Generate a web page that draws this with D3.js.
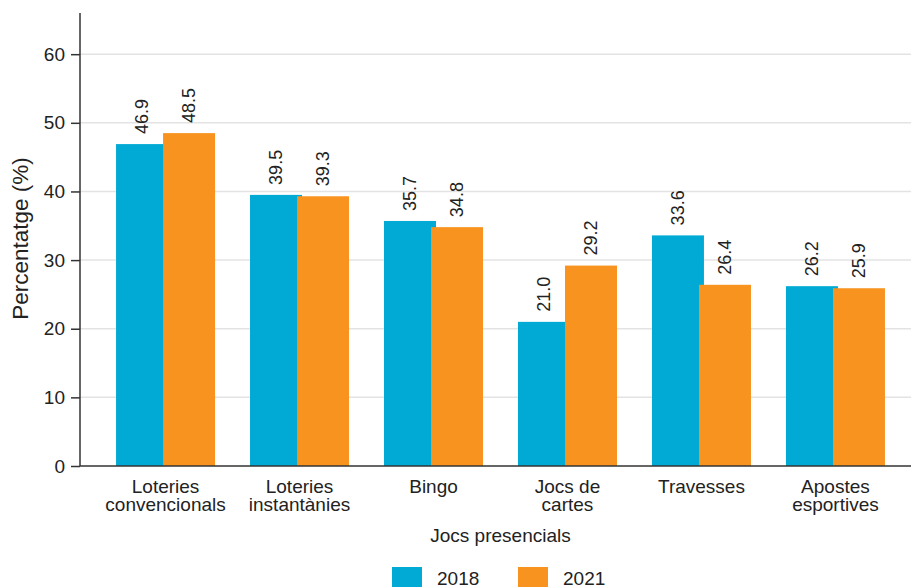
<!DOCTYPE html>
<html>
<head>
<meta charset="utf-8">
<script src="https://cdn.jsdelivr.net/npm/d3@7"></script>
<style>
  html, body { margin: 0; padding: 0; background: #fff; }
  svg { display: block; font-family: "Liberation Sans", Arial, sans-serif; }
</style>
</head>
<body>
<svg id="chart" width="911" height="587"></svg>
<script>
// Categories (two-line labels) and values per year
const categories = [
  ["Loteries", "convencionals"],
  ["Loteries", "instantànies"],
  ["Bingo"],
  ["Jocs de", "cartes"],
  ["Travesses"],
  ["Apostes", "esportives"]
];
const years = ["2018", "2021"];
const values2018 = [46.9, 39.5, 35.7, 21.0, 33.6, 26.2];
const values2021 = [48.5, 39.3, 34.8, 29.2, 26.4, 25.9];
const yTicks = [0, 10, 20, 30, 40, 50, 60];
const colors = ["#00aad4", "#f7931e"];

const svg = d3.select("#chart");
const W = 911, H = 587;
const plotLeft = 80, plotRight = 921, plotTop = 13, plotBottom = 466;
const textColor = "#222";

const keys = categories.map(c => c.join(" "));
const x0 = d3.scaleBand().domain(keys).range([plotLeft, plotRight])
  .paddingInner(0.261).paddingOuter(0.269).align(0.5);
const y = d3.scaleLinear().domain([0, 66]).range([plotBottom, plotTop]);

const bw = x0.bandwidth();
const barW = bw * 0.525;

// gridlines
svg.append("g").selectAll("line").data(yTicks.filter(t => t > 0)).join("line")
  .attr("x1", plotLeft).attr("x2", W)
  .attr("y1", d => y(d)).attr("y2", d => y(d))
  .attr("stroke", "#e3e3e3").attr("stroke-width", 1.5);

// bars
const rows = keys.map((k, i) => ({ key: k, vals: [values2018[i], values2021[i]] }));
const grp = svg.append("g").selectAll("g").data(rows).join("g")
  .attr("transform", d => `translate(${x0(d.key)},0)`);

grp.selectAll("rect").data(d => d.vals.map((v, j) => ({ v, j }))).join("rect")
  .attr("x", d => d.j * (bw - barW))
  .attr("width", barW)
  .attr("y", d => y(d.v))
  .attr("height", d => y(0) - y(d.v))
  .attr("fill", d => colors[d.j]);

// value labels, rotated
grp.selectAll("text").data(d => d.vals.map((v, j) => ({ v, j }))).join("text")
  .attr("transform", d => `translate(${d.j * (bw - barW) + barW / 2},${y(d.v) - 10}) rotate(-90)`)
  .attr("dominant-baseline", "central")
  .attr("text-anchor", "start")
  .attr("font-size", 18)
  .attr("fill", textColor)
  .text(d => d.v.toFixed(1));

// y axis
const yAxis = d3.axisLeft(y).tickValues(yTicks).tickSize(9).tickPadding(6);
const gy = svg.append("g").attr("transform", `translate(${plotLeft},0)`).call(yAxis);
gy.select(".domain").attr("d", `M0,${plotTop}V${plotBottom}`)
  .attr("stroke", "#333").attr("stroke-width", 1.5);
gy.selectAll(".tick line").attr("stroke", "#333").attr("stroke-width", 1.5);
gy.selectAll(".tick text").attr("font-size", 19).attr("fill", textColor)
  .attr("font-family", "Liberation Sans, Arial, sans-serif");

// x axis baseline
const xAxis = d3.axisBottom(x0).tickSize(0).tickFormat(() => "");
const gx = svg.append("g").attr("transform", `translate(0,${plotBottom})`).call(xAxis);
gx.select(".domain").attr("d", `M${plotLeft},0H${W}`).attr("stroke", "#333").attr("stroke-width", 1.5);

// category labels
gx.selectAll(".tick").each(function(d, i) {
  const t = d3.select(this).append("text")
    .attr("text-anchor", "middle").attr("fill", textColor).attr("font-size", 19)
    .attr("font-family", "Liberation Sans, Arial, sans-serif");
  categories[i].forEach((line, k) => {
    t.append("tspan").attr("x", 0).attr("y", 27 + k * 17.5).text(line);
  });
});

// axis titles
svg.append("text")
  .attr("transform", `translate(28,${238.5}) rotate(-90)`)
  .attr("text-anchor", "middle").attr("font-size", 22.5).attr("fill", textColor)
  .text("Percentatge (%)");

svg.append("text")
  .attr("x", (plotLeft + plotRight) / 2).attr("y", 542)
  .attr("text-anchor", "middle").attr("font-size", 19).attr("fill", textColor)
  .text("Jocs presencials");

// legend
const legend = svg.append("g");
const legendX = [392, 518];
years.forEach((yr, j) => {
  legend.append("rect").attr("x", legendX[j]).attr("y", 567).attr("width", 30).attr("height", 24)
    .attr("fill", colors[j]);
  legend.append("text").attr("x", legendX[j] + 45).attr("y", 584.5)
    .attr("font-size", 19).attr("fill", textColor).text(yr);
});
</script>
</body>
</html>
